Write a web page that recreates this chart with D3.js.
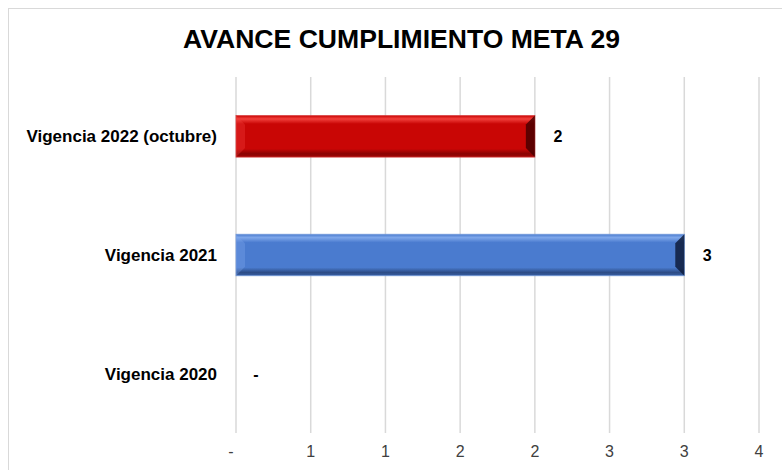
<!DOCTYPE html>
<html>
<head>
<meta charset="utf-8">
<script src="https://cdn.jsdelivr.net/npm/d3@7"></script>
<style>
  body { margin: 0; background: #fff; }
  svg { display: block; font-family: "Liberation Sans", Arial, sans-serif; }
</style>
</head>
<body>
<svg id="chart" width="782" height="470"></svg>
<script>
const categories = ['Vigencia 2022 (octubre)', 'Vigencia 2021', 'Vigencia 2020'];
const values = [2, 3, 0];
const tickValues = [0, 0.5, 1, 1.5, 2, 2.5, 3, 3.5, 4];
const barColors = ['#c90605', '#4a7bcf', '#888888'];
const lightColors = ['#f2403c', '#7ea7ea', '#aaaaaa'];
const darkColors = ['#4a0000', '#0e1c3c', '#333333'];

const svg = d3.select('#chart');
const width = 782;

// chart frame
svg.append('rect')
  .attr('x', 8.5).attr('y', 8.5)
  .attr('width', 790).attr('height', 470)
  .attr('fill', 'none').attr('stroke', '#d9d9d9');

svg.append('text')
  .attr('x', 401.5).attr('y', 48)
  .attr('text-anchor', 'middle')
  .attr('font-weight', 'bold')
  .attr('font-size', 25)
  .attr('textLength', 437)
  .attr('lengthAdjust', 'spacingAndGlyphs')
  .attr('fill', '#000')
  .text('AVANCE  CUMPLIMIENTO META 29');

const x = d3.scaleLinear().domain([0, 3.5]).range([236, 759]);
const y = d3.scaleBand().domain(categories).range([77, 433]).paddingInner(0.65).paddingOuter(0.325);

// gridlines
svg.append('g').selectAll('line')
  .data(tickValues.filter(d => x(d) <= width))
  .join('line')
  .attr('x1', d => x(d)).attr('x2', d => x(d))
  .attr('y1', 77).attr('y2', 433)
  .attr('stroke', '#d9d9d9').attr('stroke-width', 1.5);

// x axis labels
const fmt = d => d === 0 ? '-' : d3.format('.0f')(d);
svg.append('g').selectAll('text')
  .data(tickValues.filter(d => x(d) <= width))
  .join('text')
  .attr('x', d => x(d) - (d === 0 ? 5 : 0)).attr('y', 457)
  .attr('text-anchor', 'middle')
  .attr('font-size', 16)
  .attr('fill', '#404040')
  .text(fmt);

// category labels
svg.append('g').selectAll('text')
  .data(categories)
  .join('text')
  .attr('x', 217)
  .attr('y', d => y(d) + y.bandwidth() / 2 + 6)
  .attr('text-anchor', 'end')
  .attr('font-size', 17)
  .attr('font-weight', 'bold')
  .attr('fill', '#000')
  .text(d => d);

// gradients for bevelled bars
const defs = svg.append('defs');
values.forEach((v, i) => {
  const g = defs.append('linearGradient')
    .attr('id', 'grad' + i)
    .attr('x1', 0).attr('y1', 0).attr('x2', 0).attr('y2', 1);
  g.append('stop').attr('offset', '0%').attr('stop-color', barColors[i]);
  g.append('stop').attr('offset', '8%').attr('stop-color', lightColors[i]);
  g.append('stop').attr('offset', '20%').attr('stop-color', barColors[i]);
  g.append('stop').attr('offset', '80%').attr('stop-color', barColors[i]);
  g.append('stop').attr('offset', '92%').attr('stop-color', d3.interpolateRgb(barColors[i], darkColors[i])(0.5));
  g.append('stop').attr('offset', '100%').attr('stop-color', d3.interpolateRgb(barColors[i], darkColors[i])(0.3));
});

const bars = svg.append('g').selectAll('g')
  .data(values.map((v, i) => ({ v, i, c: categories[i] })).filter(d => d.v > 0))
  .join('g');

bars.append('rect')
  .attr('x', x(0))
  .attr('y', d => y(d.c))
  .attr('width', d => x(d.v) - x(0))
  .attr('height', y.bandwidth())
  .attr('fill', d => `url(#grad${d.i})`)
  .attr('stroke', d => d3.interpolateRgb(barColors[d.i], '#fff')(0.25))
  .attr('stroke-width', 0.8);

// right bevel
bars.append('path')
  .attr('d', d => {
    const x1 = x(d.v), y0 = y(d.c), h = y.bandwidth(), b = 9;
    return `M${x1},${y0}L${x1 - b},${y0 + b}L${x1 - b},${y0 + h - b}L${x1},${y0 + h}Z`;
  })
  .attr('fill', d => darkColors[d.i])
  .attr('opacity', 0.85);

// left bevel (subtle)
bars.append('path')
  .attr('d', d => {
    const x0 = x(0), y0 = y(d.c), h = y.bandwidth(), b = 9;
    return `M${x0},${y0}L${x0 + b},${y0 + b}L${x0 + b},${y0 + h - b}L${x0},${y0 + h}Z`;
  })
  .attr('fill', d => lightColors[d.i])
  .attr('opacity', 0.35);

// value labels
svg.append('g').selectAll('text')
  .data(values.map((v, i) => ({ v, c: categories[i] })))
  .join('text')
  .attr('x', d => x(d.v) + (d.v === 0 ? 20 : 23))
  .attr('y', d => y(d.c) + y.bandwidth() / 2 + 6)
  .attr('text-anchor', 'middle')
  .attr('font-size', 16)
  .attr('font-weight', 'bold')
  .attr('fill', '#000')
  .text(d => d.v === 0 ? '-' : d.v);
</script>
</body>
</html>
